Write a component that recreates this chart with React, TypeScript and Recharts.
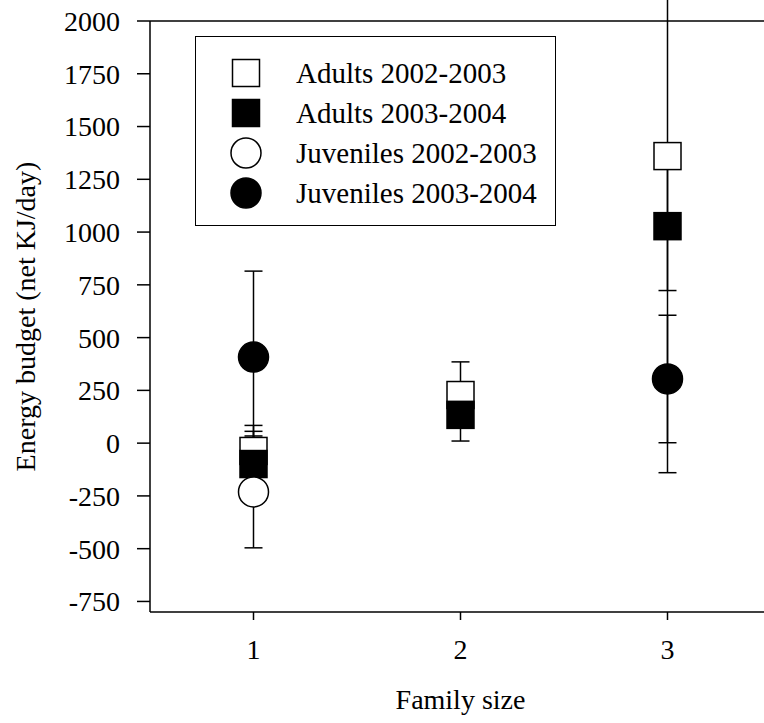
import React from 'react';
import { ScatterChart, Scatter, XAxis, YAxis, ErrorBar, ReferenceLine } from 'recharts';

const FONT = '"Liberation Serif", "Times New Roman", Times, serif';

// Family size categories (x)
const familySize = [1, 2, 3];
const xTicks = [1, 2, 3];
const yTicks = [-750, -500, -250, 0, 250, 500, 750, 1000, 1250, 1500, 1750, 2000];

// Series values (net KJ/day) and error (±)
const adults0203 = [-37, 228, 1360];
const adults0203Err = [93, 157, 1500];
const adults0304 = [-99, 134, 1028];
const adults0304Err = [183, 124, 305];
const juveniles0203 = [-231, null, null];
const juveniles0203Err = [265, null, null];
const juveniles0304 = [408, null, 304];
const juveniles0304Err = [407, null, 302];

const seriesNames = [
  'Adults 2002-2003',
  'Adults 2003-2004',
  'Juveniles 2002-2003',
  'Juveniles 2003-2004',
];

type Pt = { x: number; y: number; err: number };

const build = (vals: (number | null)[], errs: (number | null)[]): Pt[] =>
  familySize
    .map((x, i) => ({ x, y: vals[i], err: errs[i] }))
    .filter((p) => p.y !== null) as Pt[];

const series = [
  { name: seriesNames[0], data: build(adults0203, adults0203Err), kind: 'square', filled: false },
  { name: seriesNames[1], data: build(adults0304, adults0304Err), kind: 'square', filled: true },
  { name: seriesNames[2], data: build(juveniles0203, juveniles0203Err), kind: 'circle', filled: false },
  { name: seriesNames[3], data: build(juveniles0304, juveniles0304Err), kind: 'circle', filled: true },
];

const SQ = 27;
const R = 15;

const Marker = ({ kind, filled, cx, cy }: { kind: string; filled: boolean; cx: number; cy: number }) => {
  if (cx == null || cy == null) return null;
  const fill = filled ? '#000' : '#fff';
  if (kind === 'square') {
    return <rect x={cx - SQ / 2} y={cy - SQ / 2} width={SQ} height={SQ} fill={fill} stroke="#000" strokeWidth={1.5} />;
  }
  return <circle cx={cx} cy={cy} r={R} fill={fill} stroke="#000" strokeWidth={1.5} />;
};

const makeShape = (kind: string, filled: boolean) => (props: any) =>
  <Marker kind={kind} filled={filled} cx={props.cx} cy={props.cy} />;

const XTitle = (props: any) => {
  const vb = props.viewBox || {};
  return (
    <text x={vb.x + vb.width / 2} y={vb.y + 97} textAnchor="middle" fontSize={28} fontFamily={FONT} fill="#000">
      Family size
    </text>
  );
};

const YTitle = (props: any) => {
  const vb = props.viewBox || {};
  const cy = vb.y + vb.height / 2;
  const x = 35;
  return (
    <text x={x} y={cy} transform={`rotate(-90, ${x}, ${cy})`} textAnchor="middle" fontSize={28} fontFamily={FONT} fill="#000">
      Energy budget (net KJ/day)
    </text>
  );
};

const LegendBox = () => (
  <div
    style={{
      position: 'absolute',
      left: 195,
      top: 36,
      width: 361,
      height: 190,
      boxSizing: 'border-box',
      border: '1.5px solid #000',
      background: '#fff',
      fontFamily: FONT,
      fontSize: 29,
      color: '#000',
    }}
  >
    {series.map((s, i) => (
      <div key={s.name} style={{ position: 'absolute', left: 0, top: 16 + i * 40, height: 40, width: '100%' }}>
        <svg width={40} height={40} style={{ position: 'absolute', left: 30, top: 0 }}>
          <Marker kind={s.kind} filled={s.filled} cx={20} cy={20} />
        </svg>
        <span style={{ position: 'absolute', left: 100, top: 0, lineHeight: '40px', whiteSpace: 'nowrap' }}>{s.name}</span>
      </div>
    ))}
  </div>
);

export default function App() {
  return (
    <div style={{ position: 'absolute', left: 0, top: 0, width: 764, height: 723, overflow: 'hidden', background: '#fff' }}>
      <ScatterChart width={780} height={723} margin={{ top: 21, right: 9, bottom: 0, left: 0 }} style={{ fontFamily: FONT }}>
        <XAxis
          type="number"
          dataKey="x"
          domain={[0.5, 3.5]}
          ticks={xTicks}
          allowDataOverflow
          height={111}
          tickSize={8}
          tickMargin={19}
          axisLine={{ stroke: '#000', strokeWidth: 1.5 }}
          tickLine={{ stroke: '#000', strokeWidth: 1.5 }}
          tick={{ fill: '#000', fontSize: 28, fontFamily: FONT }}
          label={<XTitle />}
        />
        <YAxis
          type="number"
          dataKey="y"
          domain={[-800, 2000]}
          ticks={yTicks}
          allowDataOverflow
          interval={0}
          width={150}
          tickSize={13}
          tickMargin={17}
          axisLine={{ stroke: '#000', strokeWidth: 1.5 }}
          tickLine={{ stroke: '#000', strokeWidth: 1.5 }}
          tick={{ fill: '#000', fontSize: 28, fontFamily: FONT }}
          label={<YTitle />}
        />
        <ReferenceLine y={2000} stroke="#000" strokeWidth={1.5} />
        {series.map((s) => (
          <Scatter
            key={s.name}
            name={s.name}
            data={s.data}
            shape={makeShape(s.kind, s.filled)}
            isAnimationActive={false}
          >
            <ErrorBar dataKey="err" direction="y" width={9} stroke="#000" strokeWidth={1.5} isAnimationActive={false} />
          </Scatter>
        ))}
      </ScatterChart>
      <LegendBox />
    </div>
  );
}
